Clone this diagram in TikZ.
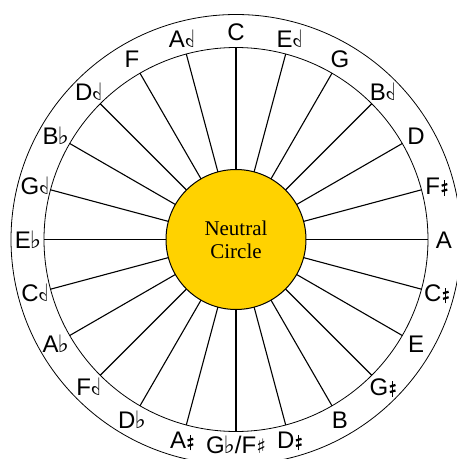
\documentclass[tikz,border=0pt]{standalone}
\usepackage{fontspec}
\setsansfont{Liberation Sans}
\setmainfont{Liberation Serif}
\newfontfamily\dejavu{DejaVu Sans}
\usepackage{graphicx}
\definecolor{gold}{RGB}{255,210,0}
\newcommand{\accfl}{{\dejavu\fontsize{24}{24}\selectfont\kern-1pt ♭}}
\newcommand{\acchfl}{\reflectbox{{\dejavu\fontsize{24}{24}\selectfont ♭\kern-1pt}}}
\newcommand{\accsh}{{\dejavu\fontsize{20}{20}\selectfont ♯}}
\newcommand{\acchsh}{\hspace{0.5pt}\tikz[baseline=0pt,x=1pt,y=1pt,line cap=butt]{\draw[line width=1.2pt] (2.8,-1.5)--(2.8,14); \draw[line width=2.2pt] (0,3)--(5.6,4.6) (0,8.5)--(5.6,10.1);}}
\begin{document}
\begin{tikzpicture}[x=1pt,y=1pt,
  ring/.style={circle, draw, line width=0.8pt, inner sep=0pt, outer sep=0pt},
  spoke/.style={line width=1.1pt},
  lab/.style={font=\sffamily\fontsize{24}{24}\selectfont, inner sep=0pt, text height=17pt, text depth=0pt, anchor=center}]
\useasboundingbox (-236,-219.5) rectangle (221,239.5);
\coordinate (c) at (0,0);
\node[ring, minimum size=450pt] (outer) at (c) {};
\node[ring, minimum size=384pt] (mid) at (c) {};
\node[ring, line width=1pt, fill=gold, minimum size=140pt, align=center,
      font=\fontsize{21}{23}\selectfont] (nc) at (c) {Neutral\\Circle};
\foreach \i in {0,...,23}{
  \pgfmathtruncatemacro\a{90-15*\i}
  \draw[spoke] (nc.\a) -- (mid.\a);
}
\foreach \t [count=\i from 0] in {C,{E\acchfl},G,{B\acchfl},D,{F\acchsh},A,{C\acchsh},E,{G\acchsh},B,{D\acchsh},{G\accfl/F\accsh},{A\acchsh},{D\accfl},{F\acchfl},{A\accfl},{C\acchfl},{E\accfl},{G\acchfl},{B\accfl},{D\acchfl},F,{A\acchfl}}{
  \pgfmathsetmacro\a{90-15*\i}
  \pgfmathsetmacro\r{\i==12 ? 205 : 208}
  \node[lab] (L\i) at (\a:\r) {\t};
}
\end{tikzpicture}
\end{document}
